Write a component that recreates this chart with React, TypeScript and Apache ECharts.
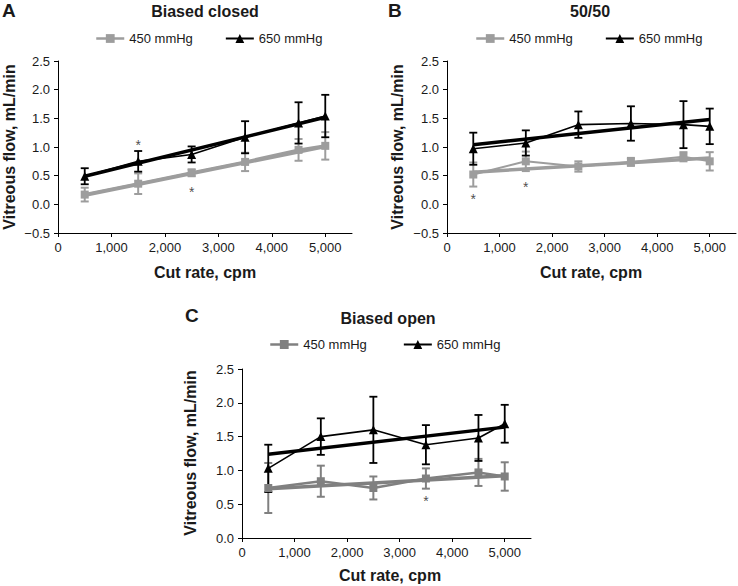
import React, { useEffect, useRef } from "react";
import * as echarts from "echarts";

// ---- data ----
const cutRates = [500, 1500, 2500, 3500, 4500, 5000];
const trendX = [500, 5000];
const xTickValues = [0, 1000, 2000, 3000, 4000, 5000];
const seriesNames = ["450 mmHg", "650 mmHg"];

// Panel A – Biased closed
const a450 = [0.17, 0.36, 0.55, 0.74, 0.95, 1.02];
const a450Err = [0.12, 0.18, 0.06, 0.16, 0.19, 0.24];
const a650 = [0.49, 0.75, 0.87, 1.17, 1.42, 1.54];
const a650Err = [0.14, 0.18, 0.14, 0.28, 0.36, 0.37];
const aTrend450 = [0.16, 1.01];
const aTrend650 = [0.49, 1.52];
const aStars = [[1500, 1.09], [2500, 0.27]];

// Panel B – 50/50
const b450 = [0.52, 0.75, 0.66, 0.74, 0.83, 0.75];
const b450Err = [0.21, 0.17, 0.09, 0.07, 0.08, 0.16];
const b650 = [0.97, 1.07, 1.39, 1.41, 1.39, 1.36];
const b650Err = [0.28, 0.22, 0.23, 0.3, 0.41, 0.31];
const bTrend450 = [0.56, 0.81];
const bTrend650 = [1.04, 1.48];
const bStars = [[500, 0.14], [1500, 0.35]];

// Panel C – Biased open
const c450 = [0.74, 0.84, 0.74, 0.88, 0.97, 0.91];
const c450Err = [0.37, 0.23, 0.17, 0.15, 0.2, 0.21];
const c650 = [1.03, 1.5, 1.6, 1.38, 1.48, 1.69];
const c650Err = [0.35, 0.27, 0.49, 0.29, 0.34, 0.28];
const cTrend450 = [0.73, 0.92];
const cTrend650 = [1.24, 1.64];
const cStars = [[3500, 0.59]];

const FONT = "Liberation Sans, Arial, sans-serif";
const TXT = "#1a1a1a";

const panels = [
  {
    letter: "A", title: "Biased closed",
    grid: { left: 58, top: 61, width: 294, height: 172 },
    yMin: -0.5, gray: "#9d9d9d", grayLine: 3,
    v450: a450, e450: a450Err, v650: a650, e650: a650Err,
    t450: aTrend450, t650: aTrend650, stars: aStars,
    legendLeft: 90, legendTop: 27, legendGap: 32,
    letterPos: [2, 10], titlePos: [205, 11], yTitlePos: [9, 147], xTitlePos: [205, 272],
  },
  {
    letter: "B", title: "50/50",
    grid: { left: 447, top: 61, width: 289, height: 172 },
    yMin: -0.5, gray: "#9d9d9d", grayLine: 2,
    v450: b450, e450: b450Err, v650: b650, e650: b650Err,
    t450: bTrend450, t650: bTrend650, stars: bStars,
    legendLeft: 470, legendTop: 27, legendGap: 32,
    letterPos: [388, 10], titlePos: [590, 11], yTitlePos: [397, 147], xTitlePos: [591, 272],
  },
  {
    letter: "C", title: "Biased open",
    grid: { left: 242, top: 369, width: 289, height: 169 },
    yMin: 0, gray: "#808080", grayLine: 2.5,
    v450: c450, e450: c450Err, v650: c650, e650: c650Err,
    t450: cTrend450, t650: cTrend650, stars: cStars,
    legendLeft: 264, legendTop: 333, legendGap: 36,
    letterPos: [185, 315], titlePos: [388, 318], yTitlePos: [190, 453], xTitlePos: [390, 575],
  },
];

function errorBarSeries(idx: number, vals: number[], errs: number[], color: string, lw: number) {
  return {
    type: "custom",
    xAxisIndex: idx,
    yAxisIndex: idx,
    z: 3,
    silent: true,
    encode: { x: 0, y: [1, 2] },
    data: cutRates.map((x, i) => [x, vals[i] - errs[i], vals[i] + errs[i]]),
    renderItem: (params: any, api: any) => {
      const x = api.value(0);
      const pLo = api.coord([x, api.value(1)]);
      const pHi = api.coord([x, api.value(2)]);
      const w = 4;
      const style = { stroke: color, lineWidth: lw };
      return {
        type: "group",
        children: [
          { type: "line", shape: { x1: pHi[0], y1: pHi[1], x2: pLo[0], y2: pLo[1] }, style },
          { type: "line", shape: { x1: pHi[0] - w, y1: pHi[1], x2: pHi[0] + w, y2: pHi[1] }, style },
          { type: "line", shape: { x1: pLo[0] - w, y1: pLo[1], x2: pLo[0] + w, y2: pLo[1] }, style },
        ],
      };
    },
  };
}

export default function App() {
  const ref = useRef<HTMLDivElement>(null);
  useEffect(() => {
    if (!ref.current) return;
    const chart = echarts.init(ref.current, null, { renderer: "svg" });

    const grids: any[] = [];
    const xAxes: any[] = [];
    const yAxes: any[] = [];
    const legends: any[] = [];
    const series: any[] = [];
    const graphics: any[] = [];

    panels.forEach((p, idx) => {
      grids.push({ ...p.grid, containLabel: false });
      xAxes.push({
        type: "value", gridIndex: idx, min: 0, max: 5500,
        axisLine: { show: true, onZero: false, lineStyle: { color: "#000", width: 1 } },
        axisTick: { show: true, length: 4, customValues: xTickValues, lineStyle: { color: "#000" } },
        axisLabel: {
          customValues: xTickValues, margin: 8, color: TXT, fontSize: 13, fontFamily: FONT,
          formatter: (v: number) => v.toLocaleString("en-US"),
        },
        splitLine: { show: false },
      });
      yAxes.push({
        type: "value", gridIndex: idx, min: p.yMin, max: 2.5, interval: 0.5,
        axisLine: { show: true, lineStyle: { color: "#000", width: 1 } },
        axisTick: { show: true, length: 4, lineStyle: { color: "#000" } },
        axisLabel: {
          margin: 8, color: TXT, fontSize: 13, fontFamily: FONT,
          formatter: (v: number) => (v < 0 ? "\u2212" + Math.abs(v).toFixed(1) : v.toFixed(1)),
        },
        splitLine: { show: false },
      });
      legends.push({
        left: p.legendLeft, top: p.legendTop, itemWidth: 28, itemHeight: 11, itemGap: p.legendGap,
        selectedMode: false,
        textStyle: { fontSize: 13, color: TXT, fontFamily: FONT },
        data: [
          { name: seriesNames[0], itemStyle: { color: p.gray }, lineStyle: { color: p.gray, width: 2.5 } },
          { name: seriesNames[1], itemStyle: { color: "#000" }, lineStyle: { color: "#000", width: 2 } },
        ],
      });

      series.push(errorBarSeries(idx, p.v450, p.e450, p.gray, 2));
      series.push(errorBarSeries(idx, p.v650, p.e650, "#000", 1.8));
      series.push({
        type: "line", name: "trend450_" + idx, xAxisIndex: idx, yAxisIndex: idx, z: 4,
        symbol: "none", silent: true,
        lineStyle: { color: p.gray, width: 3.5 },
        data: trendX.map((x, i) => [x, p.t450[i]]),
      });
      series.push({
        type: "line", name: "trend650_" + idx, xAxisIndex: idx, yAxisIndex: idx, z: 4,
        symbol: "none", silent: true,
        lineStyle: { color: "#000", width: 3.5 },
        data: trendX.map((x, i) => [x, p.t650[i]]),
      });
      series.push({
        type: "line", name: seriesNames[0], xAxisIndex: idx, yAxisIndex: idx, z: 5,
        symbol: "rect", symbolSize: 8,
        itemStyle: { color: p.gray },
        lineStyle: { color: p.gray, width: p.grayLine },
        data: cutRates.map((x, i) => [x, p.v450[i]]),
      });
      series.push({
        type: "line", name: seriesNames[1], xAxisIndex: idx, yAxisIndex: idx, z: 5,
        symbol: "triangle", symbolSize: 9,
        itemStyle: { color: "#000" },
        lineStyle: { color: "#000", width: 1.6 },
        data: cutRates.map((x, i) => [x, p.v650[i]]),
      });
      series.push({
        type: "scatter", name: "stars_" + idx, xAxisIndex: idx, yAxisIndex: idx, z: 6,
        symbolSize: 0, silent: true,
        label: {
          show: true, position: "inside", formatter: "*", color: TXT,
          fontSize: 14, fontFamily: FONT, offset: [0, 3],
        },
        data: p.stars,
      });

      graphics.push({
        type: "text", x: p.letterPos[0], y: p.letterPos[1],
        style: { text: p.letter, font: `bold 19px ${FONT}`, fill: TXT, textVerticalAlign: "middle", textAlign: "left" },
      });
      graphics.push({
        type: "text", x: p.titlePos[0], y: p.titlePos[1],
        style: { text: p.title, font: `bold 16px ${FONT}`, fill: TXT, textVerticalAlign: "middle", textAlign: "center" },
      });
      graphics.push({
        type: "text", x: p.yTitlePos[0], y: p.yTitlePos[1], rotation: Math.PI / 2,
        style: { text: "Vitreous flow, mL/min", font: `bold 16px ${FONT}`, fill: TXT, textVerticalAlign: "middle", textAlign: "center" },
      });
      graphics.push({
        type: "text", x: p.xTitlePos[0], y: p.xTitlePos[1],
        style: { text: "Cut rate, cpm", font: `bold 16px ${FONT}`, fill: TXT, textVerticalAlign: "middle", textAlign: "center" },
      });
    });

    chart.setOption({
      animation: false,
      backgroundColor: "#fff",
      grid: grids,
      xAxis: xAxes,
      yAxis: yAxes,
      legend: legends,
      series,
      graphic: graphics,
    });
    return () => chart.dispose();
  }, []);

  return (
    <div
      ref={ref}
      style={{ position: "fixed", left: 0, top: 0, width: 738, height: 586, background: "#fff" }}
    />
  );
}
